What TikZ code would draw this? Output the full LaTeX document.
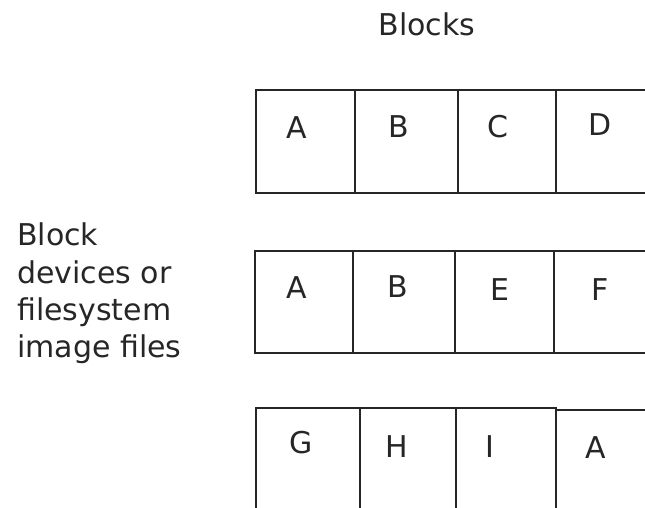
\documentclass[tikz,border=0pt]{standalone}
\usepackage{fontspec}
\setmainfont{DejaVu Sans}
\begin{document}
\begin{tikzpicture}[x=1pt,y=-1pt,
  cellline/.style={line width=2pt, draw=black!85, line cap=butt},
  lbl/.style={font=\fontsize{30}{37.5}\selectfont, inner sep=0pt, anchor=base, text=black!85},
  sidetxt/.style={font=\fontsize{30}{37.5}\selectfont, inner sep=0pt, anchor=base west, text=black!85}]
\useasboundingbox (0,0) rectangle (645,507);
% title
\node[lbl] (title) at (427,35) {Blocks};
% side label
\node[sidetxt] (s1) at (17,245) {Block};
\node[sidetxt] (s2) at (17,283) {devices or};
\node[sidetxt] (s3) at (17,320) {filesystem};
\node[sidetxt] (s4) at (17,357) {image files};
% row 1
\draw[cellline] (645,89.5) -- (256,89.5) -- (256,193) -- (645,193);
\draw[cellline] (355,89.5) -- (355,193);
\draw[cellline] (458,89.5) -- (458,193);
\draw[cellline] (556,89.5) -- (556,193);
\node[lbl] (r1a) at (297,138) {A};
\node[lbl] (r1b) at (399,137) {B};
\node[lbl] (r1c) at (498,137) {C};
\node[lbl] (r1d) at (600,135) {D};
% row 2
\draw[cellline] (645,250.5) -- (255,250.5) -- (255,353) -- (645,353);
\draw[cellline] (353,250.5) -- (353,353);
\draw[cellline] (455,250.5) -- (455,353);
\draw[cellline] (554,250.5) -- (554,353);
\node[lbl] (r2a) at (297,298) {A};
\node[lbl] (r2b) at (398,297) {B};
\node[lbl] (r2e) at (500,300) {E};
\node[lbl] (r2f) at (600,300) {F};
% row 3
\draw[cellline] (256,512) -- (256,408) -- (557,408);
\draw[cellline] (556,410) -- (645,410);
\draw[cellline] (360,408) -- (360,512);
\draw[cellline] (456,408) -- (456,512);
\draw[cellline] (556,408) -- (556,512);
\node[lbl] (r3g) at (301,453) {G};
\node[lbl] (r3h) at (397,457) {H};
\node[lbl] (r3i) at (490,457) {I};
\node[lbl] (r3a) at (596,458) {A};
\end{tikzpicture}
\end{document}
